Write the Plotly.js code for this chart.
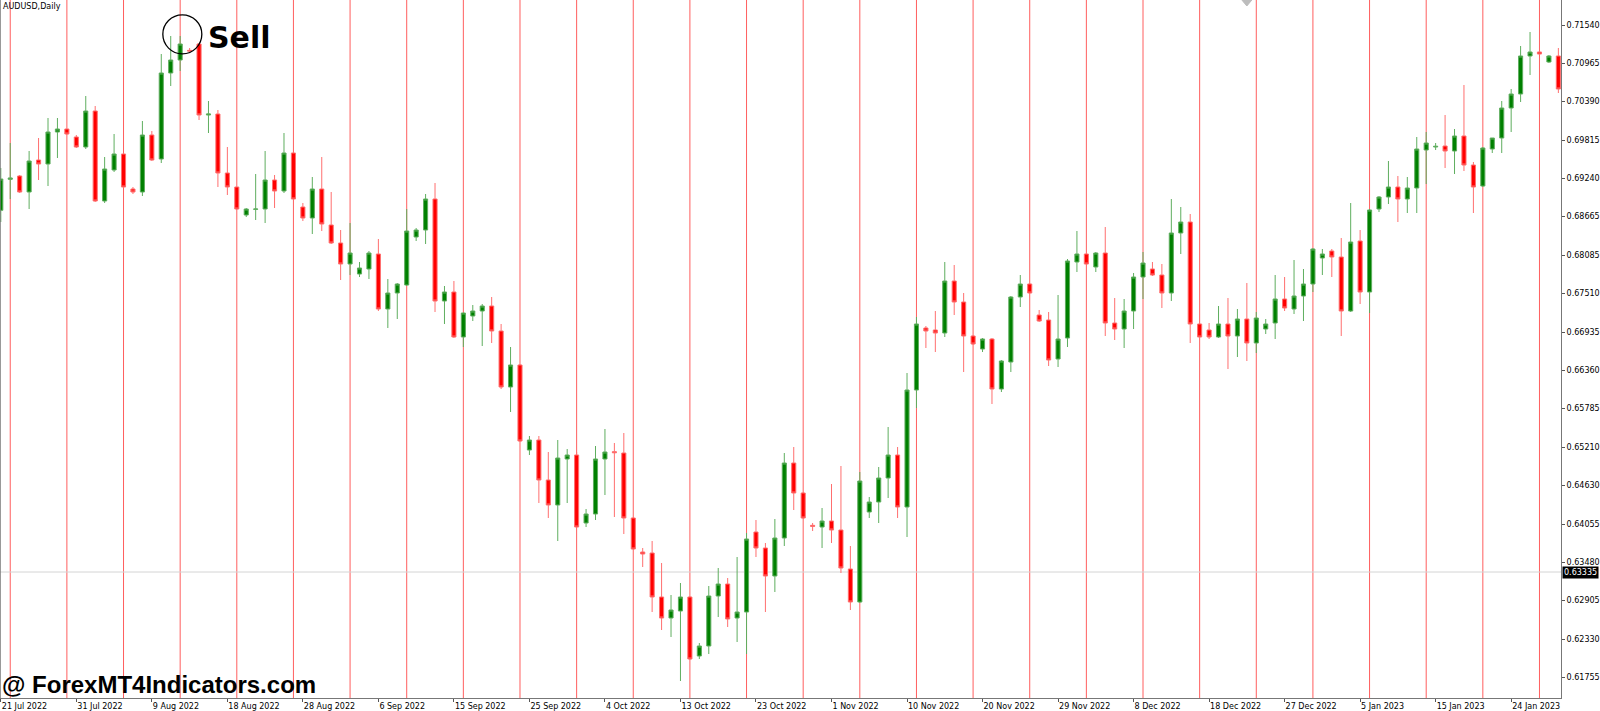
<!DOCTYPE html>
<html><head><meta charset="utf-8">
<script src="https://cdn.plot.ly/plotly-3.0.1.min.js"></script>
<style>html,body{margin:0;padding:0;background:#fff;overflow:hidden}#chart{width:1600px;height:711px}</style>
</head><body><div id="chart"></div>
<script>
const symbolTitle = "AUDUSD,Daily";
const signalText = "Sell";
const watermarkText = "@ ForexMT4Indicators.com";
const currentPrice = 0.63335;
const currentPriceText = "0.63335";

const dateLabels = ["21 Jul 2022","31 Jul 2022","9 Aug 2022","18 Aug 2022","28 Aug 2022","6 Sep 2022","15 Sep 2022","25 Sep 2022","4 Oct 2022","13 Oct 2022","23 Oct 2022","1 Nov 2022","10 Nov 2022","20 Nov 2022","29 Nov 2022","8 Dec 2022","18 Dec 2022","27 Dec 2022","5 Jan 2023","15 Jan 2023","24 Jan 2023"];
const dateLabelBars = [0,8,16,24,32,40,48,56,64,72,80,88,96,104,112,120,128,136,144,152,160];
const priceTickText = ["0.71540","0.70965","0.70390","0.69815","0.69240","0.68665","0.68085","0.67510","0.66935","0.66360","0.65785","0.65210","0.64630","0.64055","0.63480","0.62905","0.62330","0.61755"];
const priceTicks = priceTickText.map(Number);
const weekSeparatorBars = [1,7,13,19,25,31,37,43,49,55,61,67,73,79,85,91,97,103,109,115,121,127,133,139,145,151,157,163];
const signalBar = 19;

const open = [
0.68760,0.69225,0.69275,0.69035,0.69515,0.69455,0.69935,0.69980,0.69860,0.69710,
0.70250,0.68900,0.69365,0.69605,0.69080,0.69035,0.69890,0.69530,0.70820,0.71015,
0.71160,0.71255,0.70190,0.70205,0.69320,0.69110,0.68690,0.68775,0.68780,0.69215,
0.69050,0.69620,0.68810,0.68645,0.69080,0.68540,0.68270,0.67955,0.67805,0.67880,
0.68105,0.67280,0.67520,0.67640,0.68360,0.68465,0.68930,0.67400,0.67535,0.66860,
0.67175,0.67250,0.67325,0.66950,0.66110,0.66440,0.65165,0.65315,0.64715,0.64340,
0.65030,0.65090,0.64070,0.64205,0.65030,0.65140,0.65120,0.64145,0.63635,0.63620,
0.62960,0.62645,0.62750,0.62960,0.62075,0.62225,0.62975,0.63155,0.62645,0.62735,
0.63935,0.63695,0.63275,0.63845,0.64970,0.64520,0.64035,0.64010,0.64100,0.63965,
0.63380,0.62885,0.64235,0.64385,0.64745,0.65090,0.64310,0.66065,0.66995,0.66965,
0.66920,0.67700,0.67385,0.66875,0.66680,0.66830,0.66080,0.66485,0.67460,0.67655,
0.67190,0.67115,0.66530,0.66845,0.67985,0.68105,0.67910,0.68120,0.67070,0.66980,
0.67250,0.67760,0.67880,0.67790,0.67520,0.68420,0.68585,0.67055,0.66965,0.66860,
0.67055,0.66875,0.67130,0.66770,0.66980,0.67070,0.67430,0.67280,0.67475,0.67655,
0.68045,0.68150,0.68060,0.67250,0.68300,0.67535,0.68780,0.68960,0.69110,0.68930,
0.69095,0.69665,0.69710,0.69725,0.69650,0.69875,0.69440,0.69125,0.69680,0.69845,
0.70295,0.70505,0.71075,0.71135,0.70985,0.71075];

const high = [
0.69395,0.69770,0.69290,0.69650,0.69845,0.70145,0.70145,0.69980,0.69890,0.70475,
0.70325,0.69560,0.69905,0.69620,0.69110,0.70100,0.69950,0.71105,0.71375,0.71375,
0.71195,0.71270,0.70400,0.70265,0.69710,0.69110,0.68795,0.69305,0.69650,0.69290,
0.69920,0.69635,0.68870,0.69260,0.69560,0.69035,0.68465,0.68570,0.67985,0.68150,
0.68330,0.67730,0.67670,0.68780,0.68495,0.69005,0.69170,0.67625,0.67700,0.67225,
0.67340,0.67355,0.67460,0.67055,0.66710,0.66455,0.65375,0.65375,0.65135,0.65315,
0.65180,0.65135,0.64280,0.65225,0.65480,0.65270,0.65420,0.64160,0.63695,0.63800,
0.63470,0.62990,0.63170,0.62975,0.62270,0.63125,0.63395,0.63245,0.63560,0.63920,
0.64115,0.63770,0.64130,0.65120,0.65210,0.64535,0.64070,0.64295,0.64655,0.64925,
0.63725,0.64835,0.64460,0.64910,0.65510,0.65210,0.66320,0.67160,0.67025,0.67250,
0.67985,0.67940,0.67520,0.66890,0.66845,0.66845,0.66515,0.67475,0.67790,0.67670,
0.67265,0.67235,0.67490,0.68030,0.68450,0.68120,0.68135,0.68510,0.67445,0.67430,
0.67820,0.68135,0.67985,0.67955,0.68930,0.68810,0.68705,0.67070,0.67070,0.67325,
0.67445,0.67280,0.67670,0.67235,0.67130,0.67790,0.67760,0.68015,0.67880,0.68195,
0.68180,0.68180,0.68345,0.68870,0.68465,0.68780,0.68975,0.69500,0.69275,0.69260,
0.69860,0.69935,0.69770,0.70190,0.69980,0.70640,0.69485,0.69710,0.69845,0.70400,
0.70580,0.71225,0.71435,0.71150,0.71090,0.71195];

const low = [
0.68585,0.68930,0.69020,0.68780,0.69215,0.69125,0.69545,0.69890,0.69695,0.69680,
0.68885,0.68870,0.69335,0.69095,0.69005,0.68975,0.69500,0.69470,0.70625,0.70850,
0.71120,0.70115,0.69920,0.69110,0.68990,0.68765,0.68660,0.68615,0.68570,0.68795,
0.69020,0.68915,0.68600,0.68405,0.68450,0.68255,0.67715,0.67790,0.67760,0.67730,
0.67250,0.66995,0.67130,0.67625,0.68300,0.68255,0.67235,0.67055,0.66845,0.66710,
0.67100,0.66725,0.66770,0.66080,0.65735,0.65285,0.65090,0.64370,0.64145,0.63800,
0.64370,0.63995,0.64010,0.64115,0.64490,0.64160,0.63905,0.63665,0.63410,0.62735,
0.62465,0.62360,0.61700,0.62015,0.62030,0.62105,0.62660,0.62510,0.62285,0.62105,
0.63560,0.62735,0.63035,0.63725,0.64265,0.64130,0.63950,0.63695,0.63770,0.63320,
0.62765,0.62870,0.64145,0.64070,0.64445,0.64145,0.63860,0.65795,0.66695,0.66635,
0.66860,0.67190,0.66335,0.66740,0.66635,0.65855,0.66035,0.66335,0.67310,0.67505,
0.67085,0.66425,0.66410,0.66710,0.67835,0.67940,0.67835,0.66875,0.66815,0.66695,
0.66980,0.67430,0.67775,0.67295,0.67400,0.68105,0.66770,0.66845,0.66830,0.66845,
0.66380,0.66560,0.66500,0.66620,0.66905,0.66830,0.67250,0.67205,0.67100,0.67535,
0.67790,0.67760,0.66875,0.67235,0.67355,0.67220,0.68735,0.68855,0.68585,0.68720,
0.68720,0.69155,0.69665,0.69395,0.69305,0.69350,0.68720,0.69110,0.69620,0.69620,
0.69935,0.70385,0.70790,0.71090,0.70970,0.70520];

const close = [
0.69230,0.69245,0.69035,0.69500,0.69455,0.69935,0.69980,0.69905,0.69710,0.70250,
0.68900,0.69380,0.69605,0.69110,0.69035,0.69890,0.69515,0.70820,0.71015,0.71255,
0.71150,0.70190,0.70205,0.69320,0.69110,0.68780,0.68780,0.68780,0.69215,0.69050,
0.69620,0.68930,0.68645,0.69080,0.68555,0.68270,0.67955,0.68120,0.67895,0.68120,
0.67280,0.67520,0.67655,0.68450,0.68465,0.68930,0.67400,0.67535,0.66860,0.67220,
0.67250,0.67325,0.66950,0.66110,0.66440,0.65300,0.65315,0.64715,0.64340,0.65045,
0.65090,0.64010,0.64205,0.65030,0.65135,0.65125,0.64145,0.63680,0.63605,0.62960,
0.62645,0.62765,0.62960,0.62030,0.62225,0.62975,0.63155,0.62630,0.62735,0.63830,
0.63695,0.63275,0.63845,0.64970,0.64520,0.64145,0.64020,0.64100,0.63965,0.63395,
0.62885,0.64700,0.64385,0.64745,0.65090,0.64310,0.66065,0.67055,0.66950,0.66920,
0.67700,0.67385,0.66875,0.66755,0.66830,0.66080,0.66500,0.67460,0.67655,0.67520,
0.67100,0.66515,0.66830,0.68000,0.68105,0.67955,0.68120,0.67070,0.66980,0.67250,
0.67760,0.67970,0.67790,0.67520,0.68420,0.68585,0.67055,0.66860,0.66860,0.67055,
0.66875,0.67130,0.66770,0.67145,0.67055,0.67430,0.67295,0.67475,0.67655,0.68180,
0.68105,0.68060,0.67250,0.68285,0.67535,0.68765,0.68960,0.69110,0.68930,0.69095,
0.69680,0.69770,0.69720,0.69650,0.69875,0.69440,0.69110,0.69695,0.69845,0.70295,
0.70505,0.71075,0.71135,0.71105,0.71075,0.70580];

const bars = open.map((_, i) => i);

const trace = {
  type: 'candlestick', x: bars, open: open, high: high, low: low, close: close,
  increasing: {line: {color: '#5fae5f', width: 1}, fillcolor: '#008000'},
  decreasing: {line: {color: '#ff6f6f', width: 1}, fillcolor: '#ff0000'},
  whiskerwidth: 0, hoverinfo: 'skip', showlegend: false
};

const axisFont = {family: 'DejaVu Sans, Tahoma, sans-serif', size: 8, color: '#000'};
const shapes = [];
weekSeparatorBars.forEach(b => shapes.push({
  type: 'line', xref: 'x', yref: 'paper', x0: b, x1: b, y0: 0, y1: 1,
  line: {color: 'rgba(255,40,40,0.75)', width: 1}, layer: 'below'
}));
shapes.push({type: 'line', xref: 'paper', yref: 'y', x0: 0, x1: 1, y0: currentPrice, y1: currentPrice,
  line: {color: '#d4d4d4', width: 1}, layer: 'below'});
shapes.push({type: 'line', xref: 'paper', yref: 'paper', x0: 0, x1: 0, y0: 0, y1: 1,
  line: {color: '#777', width: 1.5}});
shapes.push({type: 'circle', xref: 'x', yref: 'y', xsizemode: 'pixel', ysizemode: 'pixel',
  xanchor: signalBar + 0.23, yanchor: 0.71400, x0: -19.5, x1: 19.5, y0: -19.5, y1: 19.5,
  line: {color: '#000', width: 1.3}});
shapes.push({type: 'path', xref: 'x', yref: 'paper', xsizemode: 'pixel', ysizemode: 'pixel',
  xanchor: 132, yanchor: 1, path: 'M -5 0 L 0 -6 L 5 0 L 0 6 Z',
  fillcolor: '#bdbdbd', line: {color: '#bdbdbd', width: 1}});

const annotations = [
  {xref: 'paper', yref: 'paper', x: 0, y: 1, xanchor: 'left', yanchor: 'top', xshift: 1, yshift: 0,
   text: symbolTitle, showarrow: false, font: {family: 'DejaVu Sans, Tahoma, sans-serif', size: 8, color: '#000'}},
  {xref: 'x', yref: 'y', x: 21.7, y: 0.71355, xanchor: 'left', yanchor: 'middle',
   text: '<b>' + signalText + '</b>', showarrow: false,
   font: {family: 'DejaVu Sans, sans-serif', size: 30, color: '#000'}},
  {xref: 'paper', yref: 'paper', x: 0, y: 0.019, xanchor: 'left', yanchor: 'middle', xshift: 0,
   text: '<b>' + watermarkText + '</b>', showarrow: false,
   font: {family: 'Liberation Sans, Arial, sans-serif', size: 24, color: '#000'}},
  {xref: 'paper', yref: 'y', x: 1, y: currentPrice, xanchor: 'left', yanchor: 'middle', xshift: 1,
   text: currentPriceText, showarrow: false, bgcolor: '#000', borderpad: 1,
   font: {family: 'DejaVu Sans, Tahoma, sans-serif', size: 8, color: '#fff'}}
];

const layout = {
  width: 1600, height: 711,
  margin: {l: 0, r: 39, t: 0, b: 13},
  paper_bgcolor: '#fff', plot_bgcolor: '#fff',
  boxgap: 0.38, showlegend: false,
  xaxis: {
    range: [-0.085, 165.28], rangeslider: {visible: false}, showgrid: false, zeroline: false,
    tickmode: 'array', tickvals: dateLabelBars, ticktext: dateLabels,
    ticks: 'outside', ticklen: 3, tickcolor: '#555', ticklabelposition: 'outside right',
    tickfont: axisFont, showline: true, linecolor: '#777', linewidth: 1, fixedrange: true
  },
  yaxis: {
    side: 'right', range: [0.61445, 0.71915], showgrid: false, zeroline: false,
    tickmode: 'array', tickvals: priceTicks, ticktext: priceTickText,
    ticks: 'outside', ticklen: 3, tickcolor: '#555', tickfont: axisFont,
    showline: true, linecolor: '#777', linewidth: 1, fixedrange: true
  },
  shapes: shapes, annotations: annotations
};

Plotly.newPlot('chart', [trace], layout, {displayModeBar: false, staticPlot: true});
</script>
</body></html>
